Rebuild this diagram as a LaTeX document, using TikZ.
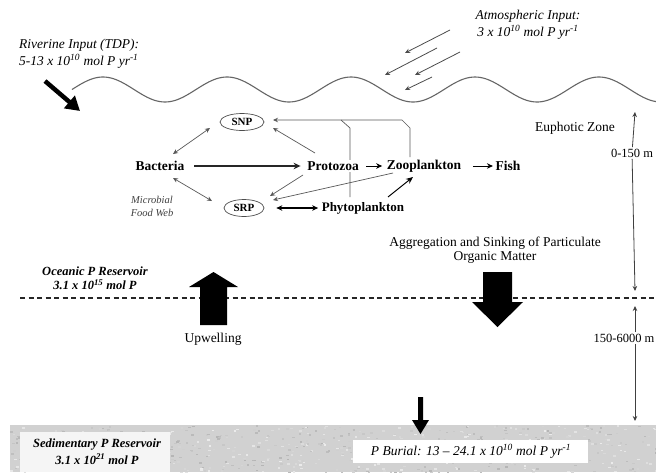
\documentclass[tikz,border=0pt]{standalone}
\usepackage{fontspec}
\setmainfont{Liberation Serif}
\usetikzlibrary{arrows.meta,calc,shapes.geometric,backgrounds}
\begin{document}
\begin{tikzpicture}[x=1pt,y=-1pt,
  lbl/.style={font=\fontsize{13.5}{16}\selectfont, inner sep=1pt, align=center},
  ital/.style={font=\itshape\fontsize{13.5}{17}\selectfont, inner sep=1pt, align=center},
  resv/.style={font=\bfseries\itshape\fontsize{12.5}{14}\selectfont, inner sep=1pt, align=center},
  web/.style={font=\bfseries\fontsize{13.5}{15}\selectfont, inner sep=1.5pt},
  pool/.style={ellipse, draw=black!70, line width=0.7pt, font=\bfseries\fontsize{11}{12}\selectfont, minimum width=44pt, minimum height=17pt, inner sep=0pt},
  webline/.style={draw=black!65, line width=0.7pt},
  webarr/.style={-{Stealth[length=5pt,width=4.5pt]}},
  webboth/.style={{Stealth[length=5pt,width=4.5pt]}-{Stealth[length=5pt,width=4.5pt]}},
  atmo/.style={draw=black!70, line width=0.8pt, -{Stealth[length=5pt,width=4.5pt]}},
  depth/.style={draw=black!75, line width=0.8pt, -{Stealth[length=5pt,width=4.5pt]}},
  deplbl/.style={font=\fontsize{12.5}{14}\selectfont, fill=white, inner sep=1.5pt},
  bigarrow/.style={fill=black}
]
\path[use as bounding box] (0,0) rectangle (656,472);
\clip (0,0) rectangle (656,472);

% sea bed with a light speckle texture
\fill[black!18] (10,425) rectangle (656,472);
\pgfmathsetseed{7}
\foreach \i in {1,...,700}{
  \pgfmathsetmacro{\px}{10+646*rnd}
  \pgfmathsetmacro{\py}{425+47*rnd}
  \pgfmathsetmacro{\pg}{int(8+22*rnd)}
  \fill[black!\pg] (\px,\py) rectangle ++(2.5,1.5);
}
\fill[black!4] (20,432) rectangle (170,472);
\fill[white] (353,440) rectangle (588,463);

% sea surface
\draw[black!60, line width=1.1pt] plot[domain=72:656, samples=240] (\x, {89.5 - 12.5*cos((\x-103)/124*360)});

% riverine input
\coordinate (rivtail) at (45,81);
\coordinate (rivtip) at (80,111);
\draw[line width=4.5pt, -{Triangle[length=14pt,width=16pt]}] (rivtail) -- (rivtip);
\node[ital, anchor=west, align=left] (riv) at (18,53.5) {Riverine Input (TDP):\\5-13 x 10\textsuperscript{10} mol P yr\textsuperscript{-1}};

% atmospheric input
\node[ital] (atm) at (528,25) {Atmospheric Input:\\3 x 10\textsuperscript{10} mol P yr\textsuperscript{-1}};
\coordinate (a1s) at (450,30); \coordinate (a1e) at (405,53);
\coordinate (a2s) at (437,48); \coordinate (a2e) at (385,75);
\coordinate (a3s) at (460,52); \coordinate (a3e) at (415,75);
\coordinate (a4s) at (432,77); \coordinate (a4e) at (405,90);
\draw[atmo] (a1s) -- (a1e);
\draw[atmo] (a2s) -- (a2e);
\draw[atmo] (a3s) -- (a3e);
\draw[atmo] (a4s) -- (a4e);

% food web nodes
\node[web] (bac) at (160,166) {Bacteria};
\node[pool] (snp) at (242,122) {SNP};
\node[pool, minimum width=40pt] (srp) at (244,208) {SRP};
\node[web, fill=white] (pro) at (333,166) {Protozoa};
\node[web] (zoo) at (424,166) {Zooplankton};
\node[web] (fish) at (508,166) {Fish};
\node[web, font=\bfseries\fontsize{13}{15}\selectfont] (phy) at (363,208) {Phytoplankton};
\node[font=\itshape\fontsize{10.5}{13}\selectfont, align=center, text=black!75] (mfw) at (152,206) {Microbial\\Food Web};

\begin{scope}[on background layer]
\fill[white] (0,0) rectangle (656,472);
\draw[webline, webboth] ($(bac)+(13,-12)$) -- ($(snp)+(-32,6)$);
\draw[webline, webboth] ($(bac)+(13,12)$) -- ($(srp)+(-32,-7)$);
\draw[line width=1.6pt, draw=black!85, -{Stealth[length=7pt,width=6.5pt]}, shorten <=8pt, shorten >=5pt] (bac) -- (pro);
\draw[webline, webarr] ($(pro)+(-18,-13)$) -- ($(snp)+(31,6)$);
\draw[webline, webarr] ($(pro)+(-30,9)$) -- ($(srp)+(26,-12)$);
\draw[line width=1.3pt, {Stealth[length=6pt,width=5.5pt]}-{Stealth[length=6pt,width=5.5pt]}, shorten <=12pt, shorten >=2pt] (srp) -- (phy);
\draw[webline, webarr] ($(zoo)+(-14,-9)$) -- ++(0,-29) -- ++(-8,-8) -- ($(snp)+(31,-2)$);
\draw[webline] ($(phy)+(-13,-11)$) -- ++(0,-69) -- ++(-9,-8);
\draw[webline, webarr] ($(zoo)+(-31,7)$) -- ($(srp)+(29,-8)$);
\draw[line width=1pt, -{Stealth[length=7pt,width=6pt]}] ($(phy)+(25,-11)$) -- ($(zoo)+(-11,11)$);
\draw[line width=1pt, -{Stealth[length=6pt,width=5.5pt]}, shorten <=6pt, shorten >=3pt] (pro) -- (zoo);
\draw[line width=1pt, -{Stealth[length=6pt,width=5.5pt]}, shorten <=10pt, shorten >=1pt] (zoo) -- (fish);
\end{scope}

% zones
\node[lbl] (euph) at (575,128) {Euphotic Zone};
\coordinate (d1top) at (635,112);
\coordinate (d1bot) at (635,291);
\node[deplbl] (d1lab) at (632,153) {0-150 m};
\draw[depth] (d1lab) -- (d1top);
\draw[depth] (d1lab) -- (d1bot);

\draw[black!85, line width=1.4pt, dash pattern=on 5pt off 3.5pt] (20,298) -- (656,298);

\coordinate (d2top) at (635,306);
\coordinate (d2bot) at (635,421);
\node[deplbl] (d2lab) at (624,338) {150-6000 m};
\draw[depth] (d2lab.north -| d2top) -- (d2top);
\draw[depth] (d2lab.south -| d2bot) -- (d2bot);

% oceanic reservoir and fluxes
\node[resv] (ocean) at (95,278.5) {Oceanic P Reservoir\\3.1 x 10\textsuperscript{15} mol P};
\fill[bigarrow] (200,325) -- (227,325) -- (227,287) -- (238,287) -- (213.5,272) -- (189,287) -- (200,287) -- cycle;
\node[lbl] (upw) at (213,339) {Upwelling};

\node[lbl, font=\fontsize{13.5}{14.5}\selectfont] (agg) at (495,250) {Aggregation and Sinking of Particulate\\Organic Matter};
\fill[bigarrow] (483,272) -- (512,272) -- (512,302) -- (523,302) -- (497.5,327) -- (472,302) -- (483,302) -- cycle;

\fill[bigarrow] (418,397) -- (423,397) -- (423,420) -- (429,420) -- (420.5,434) -- (412,420) -- (418,420) -- cycle;

% sediment labels
\node[resv, font=\bfseries\itshape\fontsize{12.5}{17}\selectfont] (sed) at (97,451.5) {Sedimentary P Reservoir\\3.1 x 10\textsuperscript{21} mol P};
\node[ital, font=\itshape\fontsize{13.5}{15}\selectfont] (bur) at (471,451) {P Burial: 13 -- 24.1 x 10\textsuperscript{10} mol P yr\textsuperscript{-1}};
\end{tikzpicture}
\end{document}
